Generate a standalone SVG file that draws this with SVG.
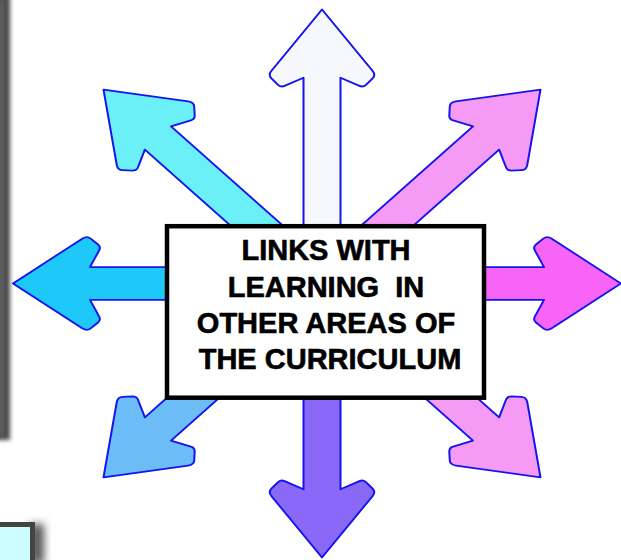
<svg xmlns="http://www.w3.org/2000/svg" xmlns:xlink="http://www.w3.org/1999/xlink" width="621" height="560" viewBox="0 0 621 560">
  <style>
    .arrow { stroke: #1414ee; stroke-width: 2; stroke-linejoin: round; vector-effect: non-scaling-stroke; }
    .label { font-family: "Liberation Sans", Arial, sans-serif; font-weight: bold; font-size: 29px; fill: #000; stroke: #000; stroke-width: 0.6; text-anchor: middle; white-space: pre; }
  </style>
  <defs>
    <!-- one arrow pointing along +x, origin at the hub -->
    <path id="arrowShape" d="M309 0 L239.8 -50.5 Q235 -54 231.3 -50.6 L224 -44 Q221 -41 222.8 -37.4 L232 -18.5 L0 -18.5 L0 18.5 L232 18.5 L222.8 37.4 Q221 41 224 44 L231.3 50.6 Q235 54 239.8 50.5 Z"/>
    <filter id="soft" x="-100%" y="-10%" width="300%" height="120%">
      <feGaussianBlur stdDeviation="2.2"/>
    </filter>
    <filter id="shadow" x="-50%" y="-50%" width="200%" height="200%">
      <feGaussianBlur stdDeviation="4"/>
    </filter>
  </defs>

  <rect width="621" height="560" fill="#fff"/>

  <!-- left page frame -->
  <g id="frame">
    <rect x="-6" y="-10" width="16" height="450" fill="#4a4a4a" filter="url(#soft)"/>
    <rect x="0" y="0" width="3" height="436" fill="#6e6e6e" filter="url(#soft)"/>
  </g>

  <!-- small box in the lower-left corner -->
  <g id="cornerBox">
    <rect x="30" y="524" width="14" height="40" fill="#555" filter="url(#shadow)"/>
    <rect x="-4" y="522" width="39" height="42" fill="#444"/>
    <rect x="-4" y="527" width="34" height="37" fill="#ccfdff"/>
  </g>

  <!-- eight arrows radiating from the hub -->
  <g id="arrows">
    <g id="arrowUp" transform="translate(322 283.5) scale(1 0.887) rotate(-90)"><use xlink:href="#arrowShape" class="arrow" fill="#f6f8fe"/></g>
    <g id="arrowUpLeft" transform="translate(322 283.5) scale(1 0.887) rotate(-135)"><use xlink:href="#arrowShape" class="arrow" fill="#6cf0f8"/></g>
    <g id="arrowUpRight" transform="translate(322 283.5) scale(1 0.887) rotate(-45)"><use xlink:href="#arrowShape" class="arrow" fill="#f59af5"/></g>
    <g id="arrowLeft" transform="translate(322 283.5) scale(1 0.887) rotate(180)"><use xlink:href="#arrowShape" class="arrow" fill="#1ec8f8"/></g>
    <g id="arrowRight" transform="translate(312 283.5) scale(1 0.887)"><use xlink:href="#arrowShape" class="arrow" fill="#f864f8"/></g>
    <g id="arrowDownLeft" transform="translate(322 283.5) scale(1 0.887) rotate(135)"><use xlink:href="#arrowShape" class="arrow" fill="#6cbcf8"/></g>
    <g id="arrowDownRight" transform="translate(322 283.5) scale(1 0.887) rotate(45)"><use xlink:href="#arrowShape" class="arrow" fill="#f59af5"/></g>
    <g id="arrowDown" transform="translate(322 283.5) scale(1 0.887) rotate(90)"><use xlink:href="#arrowShape" class="arrow" fill="#8a68f8"/></g>
  </g>

  <!-- central label box -->
  <g id="centerBox">
    <rect x="167" y="226.2" width="317" height="171.5" fill="#fff" stroke="#000" stroke-width="4.5"/>
    <text class="label" x="326" y="260">LINKS WITH</text>
    <text class="label" x="326" y="297">LEARNING  IN</text>
    <text class="label" x="326" y="333">OTHER AREAS OF</text>
    <text class="label" x="330" y="369">THE CURRICULUM</text>
  </g>
</svg>
